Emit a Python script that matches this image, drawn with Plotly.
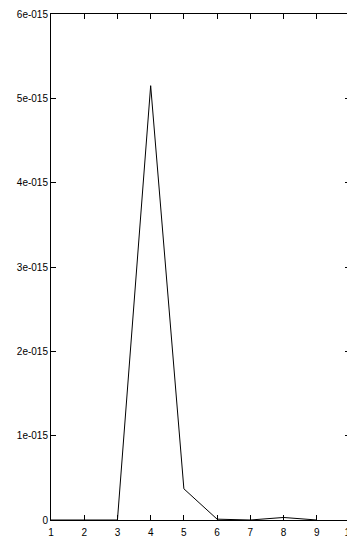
import plotly.graph_objects as go

x_vals = [1, 2, 3, 4, 5, 6, 7, 8, 9]
y_vals = [0, 0, 0, 5.15e-15, 0.37e-15, 0.01e-15, 0, 0.03e-15, 0]
x_ticks = [1, 2, 3, 4, 5, 6, 7, 8, 9, 10]
y_ticks = [0, 1e-15, 2e-15, 3e-15, 4e-15, 5e-15, 6e-15]
y_tick_labels = ["0", "1e-015", "2e-015", "3e-015", "4e-015", "5e-015", "6e-015"]

fig = go.Figure()
fig.add_trace(go.Scatter(x=x_vals, y=y_vals, mode="lines",
                         line=dict(color="black", width=1)))

# page body has an 8px default margin, so the figure is shrunk by 8px
fig.update_layout(
    width=347, height=532,
    margin=dict(l=43, r=5, t=6, b=20),
    paper_bgcolor="white", plot_bgcolor="white",
    showlegend=False,
    font=dict(family="Liberation Sans, Arial, sans-serif", size=10, color="black"),
)
fig.update_xaxes(range=[1, 10], tickvals=x_ticks, ticks="inside", ticklen=5,
                 tickwidth=1, tickcolor="black", showline=True, linecolor="black",
                 linewidth=1, mirror="allticks", showgrid=False, zeroline=False,
                 automargin=False, ticklabeloverflow="allow",
                 ticklabelstandoff=3)
fig.update_yaxes(range=[0, 6e-15], tickvals=y_ticks, ticktext=y_tick_labels,
                 ticks="inside", ticklen=5, tickwidth=1, tickcolor="black",
                 showline=True, linecolor="black", linewidth=1, mirror="allticks",
                 showgrid=False, zeroline=False, automargin=False,
                 ticklabeloverflow="allow")

fig.write_html("out.html")
